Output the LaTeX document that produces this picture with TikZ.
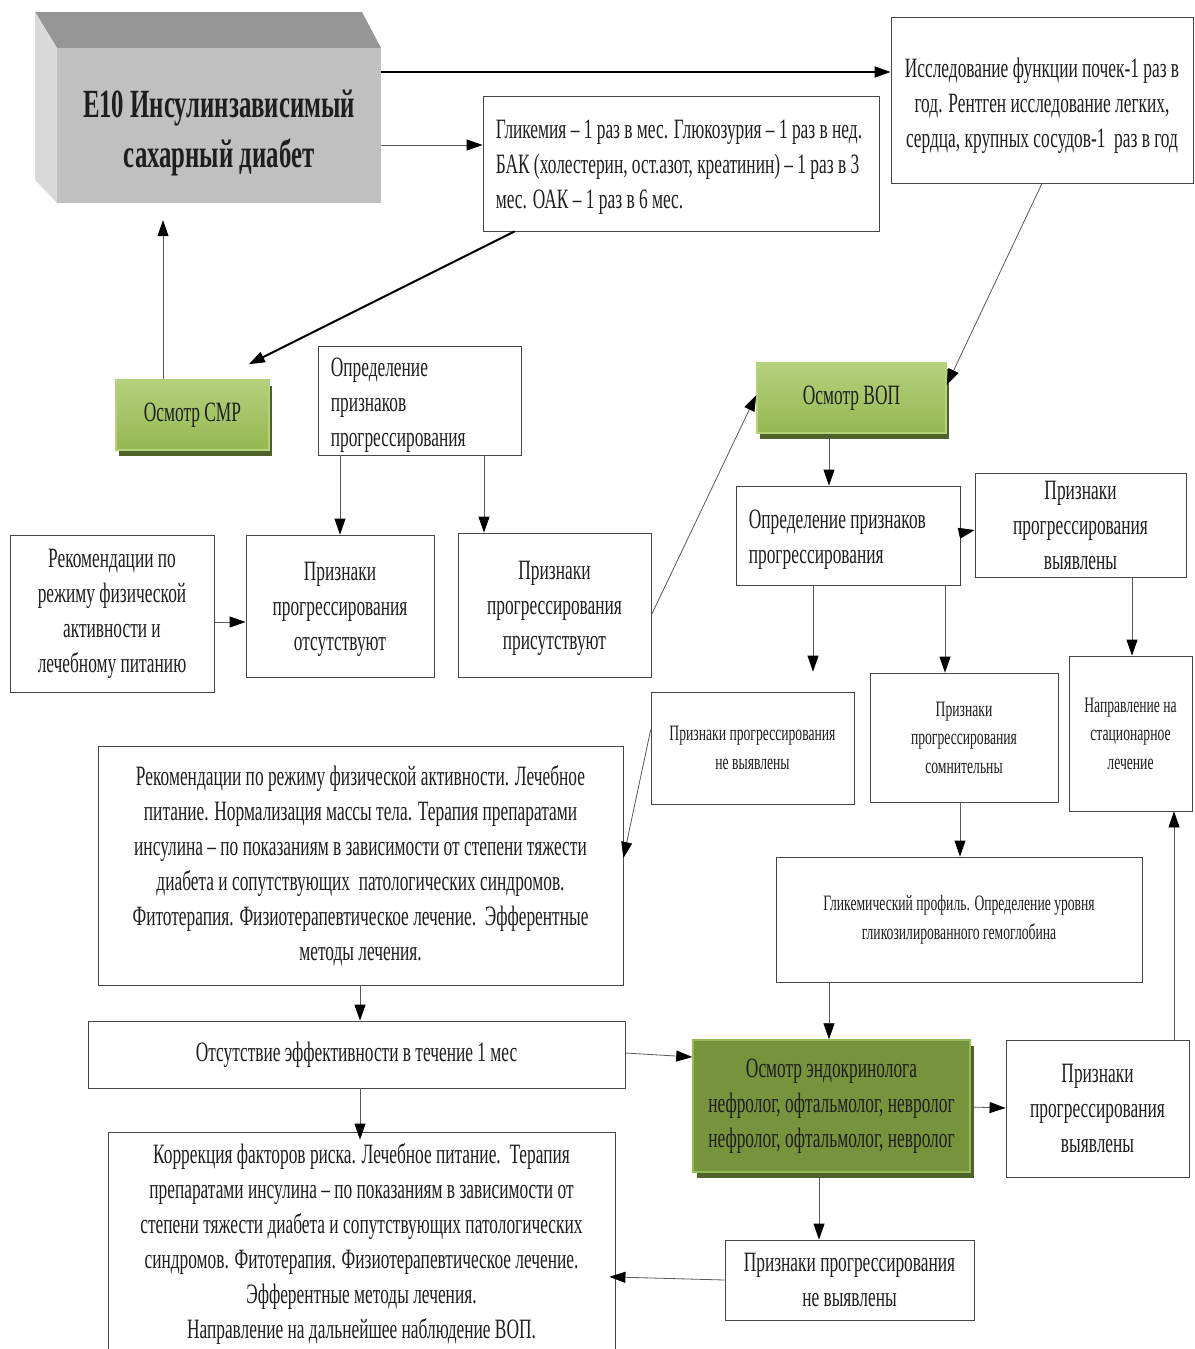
\documentclass[tikz,border=0pt]{standalone}
\usepackage{fontspec}
\setmainfont{Liberation Serif}[FakeStretch=0.62]
\usetikzlibrary{arrows.meta,shadows}
\definecolor{frontgray}{RGB}{192,192,192}
\definecolor{topgray}{RGB}{150,150,150}
\definecolor{sidegray}{RGB}{218,218,218}
\definecolor{grnlight}{RGB}{182,208,124}
\definecolor{grnmid}{RGB}{148,184,82}
\definecolor{grnedge}{RGB}{180,210,122}
\definecolor{grndark}{RGB}{79,98,40}
\definecolor{olive}{RGB}{119,147,60}
\definecolor{oliveedge}{RGB}{150,185,90}
\definecolor{boxline}{RGB}{70,70,70}
\definecolor{txt}{RGB}{30,30,30}
\tikzset{
  box/.style={draw=boxline, line width=0.8pt, fill=white, inner sep=0pt, align=center, text=txt,
              font=\fontsize{28}{35}\selectfont},
  smallbox/.style={box, font=\fontsize{22}{28.5}\selectfont},
  lefttext/.style={anchor=west, inner sep=0pt, text=txt, font=\fontsize{28}{35}\selectfont},
  plaintext/.style={inner sep=0pt, align=center, text=txt, font=\fontsize{28}{35}\selectfont},
  greenbox/.style={draw=grnedge, line width=1.5pt, top color=grnlight, bottom color=grnmid, inner sep=0pt,
              align=center, text=txt, font=\fontsize{28}{35}\selectfont,
              drop shadow={shadow xshift=3pt, shadow yshift=-6pt, fill=grndark, opacity=1}},
  olivebox/.style={draw=oliveedge, line width=1.5pt, fill=olive, inner sep=0pt, align=center, text=txt,
              font=\fontsize{28}{35}\selectfont,
              drop shadow={shadow xshift=4pt, shadow yshift=-6pt, fill=grndark, opacity=1}},
  arr/.style={draw=black!65, line width=0.8pt, -{Triangle[length=16pt,width=11pt,black]}},
  thkarr/.style={draw=black, line width=2pt, -{Triangle[length=16pt,width=11pt,black]}},
}
\begin{document}
\begin{tikzpicture}[x=1pt,y=-1pt]
\useasboundingbox[fill=white] (0,0) rectangle (1194,1349);

% 3D main box
\fill[topgray] (35,12) -- (362,12) -- (381,48) -- (57,48) -- cycle;
\fill[sidegray] (35,12) -- (57,48) -- (57,203) -- (35,180) -- cycle;
\node[fill=frontgray, minimum width=324pt, minimum height=155pt, inner sep=0pt] (main) at (219,125.5) {};
\node[align=center, text=txt, inner sep=0pt, font=\bfseries\fontsize{40}{50}\selectfont] (title) at (219,133)
  {E10 Инсулинзависимый\\сахарный диабет};

\node[box, minimum width=302pt, minimum height=166pt] (isl) at (1042,100) {};
\node[plaintext] (islt) at ([yshift=-6pt]isl.center)
  {Исследование функции почек-1 раз в\\год. Рентген исследование легких,\\сердца, крупных сосудов-1\ \ раз в год};
\node[box, minimum width=396pt, minimum height=135pt] (glyc) at (681,163.5) {};
\node[lefttext] (glyct) at ([xshift=13pt,yshift=-3pt]glyc.west)
  {\begin{tabular}{@{}l@{}}Гликемия – 1 раз в мес. Глюкозурия – 1 раз в нед.\\БАК (холестерин, ост.азот, креатинин) – 1 раз в 3\\мес. ОАК – 1 раз в 6 мес.\end{tabular}};

\node[greenbox, minimum width=153pt, minimum height=70pt] (smr) at (192.5,415) {Осмотр СМР};
\node[box, minimum width=203pt, minimum height=109pt] (opr1) at (419.5,400.5) {};
\node[lefttext] (opr1t) at ([xshift=13pt,yshift=-4pt]opr1.west)
  {\begin{tabular}{@{}l@{}}Определение\\признаков\\прогрессирования\end{tabular}};
\node[greenbox, minimum width=189pt, minimum height=70pt] (vop) at (851.5,398) {Осмотр ВОП};

\node[box, minimum width=204pt, minimum height=157pt] (rec1) at (112,613.5)
  {Рекомендации по\\режиму физической\\активности и\\лечебному питанию};
\node[box, minimum width=188pt, minimum height=142pt] (abs) at (340,606) {};
\node[plaintext] (abst) at ([yshift=-3pt]abs.center) {Признаки\\прогрессирования\\отсутствуют};
\node[box, minimum width=193pt, minimum height=144pt] (pres) at (554.5,605) {};
\node[plaintext] (prest) at ([yshift=-3pt]pres.center) {Признаки\\прогрессирования\\присутствуют};

\node[box, minimum width=224pt, minimum height=99pt] (opr2) at (848,535.5) {};
\node[lefttext] (opr2t) at ([xshift=13pt,yshift=-3pt]opr2.west)
  {\begin{tabular}{@{}l@{}}Определение признаков\\прогрессирования\end{tabular}};
\node[box, minimum width=211pt, minimum height=104pt] (vyy1) at (1080.5,525)
  {Признаки\\прогрессирования\\выявлены};

\node[smallbox, minimum width=203pt, minimum height=112pt] (nvy1) at (752.5,748)
  {Признаки прогрессирования\\не выявлены};
\node[smallbox, minimum width=188pt, minimum height=129pt] (som) at (964,737.5)
  {Признаки\\прогрессирования\\сомнительны};
\node[smallbox, minimum width=123pt, minimum height=155pt] (napr) at (1130.5,733.5)
  {Направление на\\стационарное\\лечение};

\node[box, minimum width=525pt, minimum height=239pt] (rec2) at (360.5,865.5)
  {Рекомендации по режиму физической активности. Лечебное\\питание. Нормализация массы тела. Терапия препаратами\\инсулина – по показаниям в зависимости от степени тяжести\\диабета и сопутствующих\ \ патологических синдромов.\\Фитотерапия. Физиотерапевтическое лечение.\ \ Эфферентные\\методы лечения.};
\node[smallbox, minimum width=366pt, minimum height=125pt] (gprof) at (959,919.5)
  {Гликемический профиль. Определение уровня\\гликозилированного гемоглобина};

\node[box, minimum width=537pt, minimum height=67pt] (otsut) at (356.5,1054.5)
  {Отсутствие эффективности в течение 1 мес};
\node[olivebox, minimum width=277pt, minimum height=132pt] (endo) at (831.5,1106)
  {Осмотр эндокринолога\\нефролог, офтальмолог, невролог\\нефролог, офтальмолог, невролог};
\node[box, minimum width=183pt, minimum height=137pt] (vyy2) at (1097.5,1108.5)
  {Признаки\\прогрессирования\\выявлены};

\node[box, minimum width=507pt, minimum height=223pt] (korr) at (361.5,1243.5)
  {Коррекция факторов риска. Лечебное питание.\ \ Терапия\\препаратами инсулина – по показаниям в зависимости от\\степени тяжести диабета и сопутствующих патологических\\синдромов. Фитотерапия. Физиотерапевтическое лечение.\\Эфферентные методы лечения.\\Направление на дальнейшее наблюдение ВОП.};
\node[box, minimum width=249pt, minimum height=80pt] (nvy2) at (849.5,1280)
  {Признаки прогрессирования\\не выявлены};

% connectors
\draw[thkarr] (main.east |- 0,72) -- (isl.west |- 0,72);
\draw[arr] (main.east |- 0,145) -- (glyc.west |- 0,145);
\draw[thkarr] ([xshift=32pt]glyc.south west) -- ([xshift=-21pt,yshift=15pt]smr.north east);
\draw[arr, shorten >=17pt] (smr.north -| 163,0) -- (main.south -| 163,0);
\draw[arr] (isl.south) -- ([yshift=13pt]vop.east);
\draw[arr] (abs.north |- opr1.south) -- (abs.north);
\draw[arr] (opr1.south -| 484,0) -- (pres.north -| 484,0);
\draw[arr] (rec1.east |- 0,622) -- (abs.west |- 0,622);
\draw[arr] (pres.east |- 0,615) -- (vop.west |- 0,395);
\draw[arr] (vop.south -| 829,0) -- (opr2.north -| 829,0);
\draw[arr] (opr2.east |- 0,533) -- (vyy1.west |- 0,530);
\draw[arr, shorten >=20pt] (opr2.south -| 813,0) -- (nvy1.north -| 813,0);
\draw[arr] (opr2.south -| 945,0) -- (som.north -| 945,0);
\draw[arr] (vyy1.south -| 1132,0) -- (napr.north -| 1132,0);
\draw[arr] (som.south -| 960,0) -- (gprof.north -| 960,0);
\draw[arr] (gprof.south -| 829,0) -- (endo.north -| 829,0);
\draw[arr] (nvy1.west |- 0,730) -- (rec2.east |- 0,858);
\draw[arr] (rec2.south -| 360,0) -- (otsut.north -| 360,0);
\draw[arr] (otsut.east |- 0,1053) -- (endo.west |- 0,1057);
\draw[arr, shorten >=-8pt] (otsut.south -| 360,0) -- (korr.north -| 360,0);
\draw[arr] (endo.east |- 0,1107) -- (vyy2.west |- 0,1108);
\draw[arr] (endo.south -| 819,0) -- (nvy2.north -| 819,0);
\draw[arr, shorten >=-6pt] (nvy2.west) -- (korr.east |- 0,1277);
\draw[arr] (vyy2.north -| 1174,0) -- (napr.south -| 1174,0);
\end{tikzpicture}
\end{document}
